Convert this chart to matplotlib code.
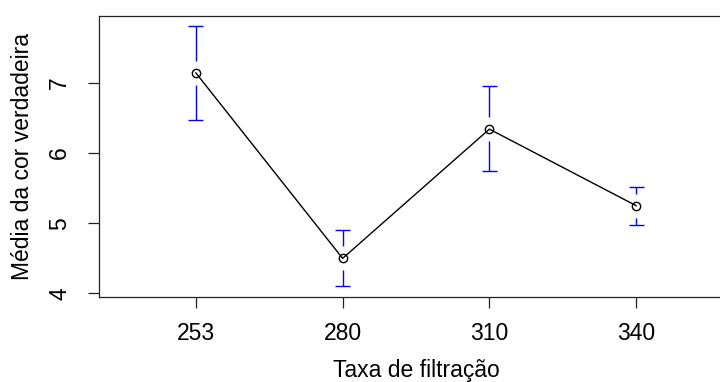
import numpy as np
import matplotlib.pyplot as plt

plt.rcParams['font.family'] = ['Liberation Sans', 'DejaVu Sans']

taxa = ["253", "280", "310", "340"]
media = [7.14, 4.50, 6.34, 5.25]
sup = [7.81, 4.90, 6.95, 5.51]
inf = [6.47, 4.10, 5.74, 4.97]

x = np.arange(1, len(taxa) + 1)
media = np.asarray(media)
sup = np.asarray(sup)
inf = np.asarray(inf)

fig = plt.figure(figsize=(7.2, 3.82), dpi=100)
ax = fig.add_axes([99 / 720, 85 / 382, 634 / 720, 281 / 382])

# barras de erro com espaço em volta do ponto (estilo plotmeans)
gap = 0.17
cap = 0.052
ax.vlines(x, np.minimum(media + gap, sup), sup, color='blue', lw=1.0)
ax.vlines(x, inf, np.maximum(media - gap, inf), color='blue', lw=1.0)
ax.hlines(sup, x - cap, x + cap, color='blue', lw=1.0)
ax.hlines(inf, x - cap, x + cap, color='blue', lw=1.0)

ax.plot(x, media, color='black', lw=1.0, marker='o', markersize=6,
        markerfacecolor='none', markeredgecolor='black', markeredgewidth=1.0)

ax.set_xlim(0.34, 4.66)
ax.set_ylim(3.95, 7.95)
ax.set_xticks(x)
ax.set_xticklabels(taxa)
ax.set_yticks([4, 5, 6, 7])
for s in ax.spines.values():
    s.set_linewidth(0.9)
    s.set_color('#222222')

ax.tick_params(axis='both', length=8, width=0.9, color='#222222', labelsize=16.5)
ax.tick_params(axis='x', pad=10)
ax.tick_params(axis='y', pad=12)
for lab in ax.get_yticklabels():
    lab.set_rotation(90)
    lab.set_va('center')

ax.set_xlabel("Taxa de filtração", fontsize=16.5, va='center')
ax.xaxis.set_label_coords(0.5, -0.263)
ax.set_ylabel("Média da cor verdadeira", fontsize=16.5, va='center')
ax.yaxis.set_label_coords(-0.121, 0.5)

fig.savefig("out.png", dpi=100)
